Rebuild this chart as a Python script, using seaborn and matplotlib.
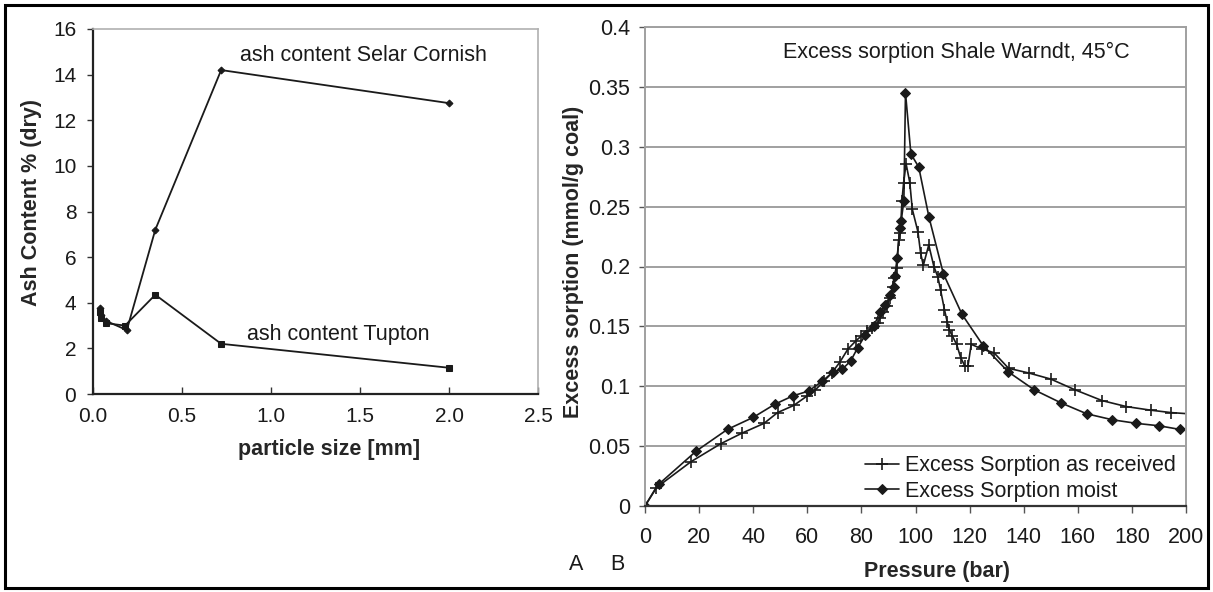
import numpy as np
import pandas as pd
import seaborn as sns
import matplotlib
matplotlib.use('Agg')
import matplotlib.pyplot as plt
from matplotlib.ticker import FuncFormatter, MultipleLocator

# region data
# panel A - ash content vs particle size
size_selar = [0.038, 0.045, 0.075, 0.19, 0.35, 0.72, 2.0]
ash_selar = [3.75, 3.45, 3.2, 2.8, 7.2, 14.2, 12.75]
size_tupton = [0.038, 0.045, 0.075, 0.18, 0.35, 0.72, 2.0]
ash_tupton = [3.6, 3.35, 3.1, 3.0, 4.35, 2.2, 1.15]

# panel B - excess sorption vs pressure
p_received = [0, 4, 17, 28, 36, 44, 49, 55, 60, 63, 66, 69, 72, 75, 78, 80, 82, 84,
              86, 87, 88, 89.5, 90.5, 91.5, 92, 93, 93.8, 94.4, 95, 95.6, 96.5, 97.9,
              98.8, 100.9, 101.9, 102.9, 104.9, 106.8, 108.3, 109.3, 110.7, 111.7,
              112.5, 113.6, 115.2, 116.7, 118.2, 119.4, 120.6, 124.7, 129, 134.4,
              142, 150, 159, 169, 178, 187, 194.5, 201]
s_received = [0, 0.015, 0.037, 0.052, 0.061, 0.069, 0.078, 0.084, 0.092, 0.097, 0.104,
              0.111, 0.12, 0.131, 0.138, 0.142, 0.146, 0.149, 0.153, 0.157, 0.162, 0.167,
              0.174, 0.183, 0.19, 0.199, 0.222, 0.228, 0.255, 0.27, 0.286, 0.27, 0.248,
              0.229, 0.211, 0.201, 0.218, 0.2, 0.191, 0.18, 0.164, 0.154, 0.147, 0.142,
              0.135, 0.124, 0.117, 0.117, 0.135, 0.131, 0.128, 0.115, 0.111, 0.106,
              0.097, 0.088, 0.083, 0.08, 0.078, 0.077]
p_moist = [0, 5, 19, 30.5, 40, 48, 54.7, 60.5, 65.4, 69.6, 72.8, 76, 78.6, 81.5, 84.6,
           86.8, 88.9, 90.7, 92, 92.4, 93.2, 94.2, 94.7, 95.7, 96.3, 98.3, 101.2, 105,
           110.3, 117.2, 125, 134.3, 143.9, 153.9, 163.3, 172.8, 181.7, 190, 197.6, 201]
s_moist = [0, 0.018, 0.046, 0.064, 0.074, 0.085, 0.092, 0.096, 0.104, 0.112, 0.114,
           0.121, 0.132, 0.143, 0.15, 0.162, 0.168, 0.176, 0.183, 0.192, 0.207, 0.232,
           0.238, 0.255, 0.345, 0.294, 0.283, 0.241, 0.194, 0.16, 0.134, 0.112, 0.097,
           0.086, 0.077, 0.072, 0.069, 0.067, 0.064, 0.064]
# endregion

df_selar = pd.DataFrame({'size': size_selar, 'ash': ash_selar})
df_tupton = pd.DataFrame({'size': size_tupton, 'ash': ash_tupton})
df_rec = pd.DataFrame({'p': p_received, 's': s_received})
df_moist = pd.DataFrame({'p': p_moist, 's': s_moist})

sns.set_theme(style='white')
plt.rcParams['font.family'] = ['Liberation Sans', 'DejaVu Sans']
plt.rcParams['text.color'] = '#1a1a1a'
plt.rcParams['xtick.color'] = '#1a1a1a'
plt.rcParams['ytick.color'] = '#1a1a1a'

W, H = 1213, 592
fig = plt.figure(figsize=(W / 100, H / 100), dpi=100)

line_col = '#1a1a1a'
fs = 15.5

# ---------------- panel A ----------------
axA = fig.add_axes([93 / W, 1 - 394 / H, (538 - 93) / W, (394 - 29) / H])
sns.lineplot(data=df_selar, x='size', y='ash', ax=axA, sort=False, estimator=None,
             color=line_col, lw=1.3, marker='D', ms=3.5, mec=line_col)
sns.lineplot(data=df_tupton, x='size', y='ash', ax=axA, sort=False, estimator=None,
             color=line_col, lw=1.3, marker='s', ms=5, mec=line_col)
axA.set_xlim(0, 2.5)
axA.set_ylim(0, 16)
axA.xaxis.set_major_locator(MultipleLocator(0.5))
axA.yaxis.set_major_locator(MultipleLocator(2))
axA.xaxis.set_major_formatter(FuncFormatter(lambda v, p: f'{v:.1f}'))
axA.tick_params(axis='x', direction='in', length=5, width=1, color='#333333',
                labelsize=15, pad=9)
axA.tick_params(axis='y', direction='out', length=4, width=1, color='#333333',
                labelsize=15, pad=8)
axA.tick_params(bottom=True, left=True)
for side in ['left', 'bottom']:
    axA.spines[side].set_color('#222222')
    axA.spines[side].set_linewidth(1.6)
for side in ['top', 'right']:
    axA.spines[side].set_color('#b0b0b0')
    axA.spines[side].set_linewidth(1.2)
axA.set_xlabel('particle size [mm]', fontsize=fs, fontweight='bold')
axA.xaxis.set_label_coords(0.53, -0.123)
axA.set_ylabel('Ash Content % (dry)', fontsize=fs, fontweight='bold')
axA.yaxis.set_label_coords(-0.115, 0.526)
axA.text(1.52, 14.85, 'ash content Selar Cornish', fontsize=fs, ha='center', va='center')
axA.text(1.38, 2.6, 'ash content Tupton', fontsize=fs, ha='center', va='center')

# ---------------- panel B ----------------
axB = fig.add_axes([645 / W, 1 - 506 / H, (1186 - 645) / W, (506 - 27) / H])
sns.lineplot(data=df_rec, x='p', y='s', ax=axB, sort=False, estimator=None,
             color=line_col, lw=1.2, marker='+', ms=8, mew=1.2, mec=line_col,
             markevery=slice(0, len(p_received) - 1),
             label='Excess Sorption as received')
sns.lineplot(data=df_moist, x='p', y='s', ax=axB, sort=False, estimator=None,
             color=line_col, lw=1.2, marker='D', ms=5.5, mec=line_col,
             markevery=slice(0, len(p_moist) - 1),
             label='Excess Sorption moist')
axB.set_xlim(0, 200)
axB.set_ylim(0, 0.4)
axB.xaxis.set_major_locator(MultipleLocator(20))
axB.yaxis.set_major_locator(MultipleLocator(0.05))
axB.yaxis.set_major_formatter(FuncFormatter(lambda v, p: f'{v:g}'))
axB.grid(axis='y', color='#a0a0a0', lw=1.4)
axB.set_axisbelow(True)
axB.tick_params(axis='x', direction='out', length=5, width=1, color='#555555',
                labelsize=fs, pad=10)
axB.tick_params(axis='y', direction='out', length=4, width=1, color='#555555',
                labelsize=fs, pad=6.5)
axB.tick_params(bottom=True, left=True)
axB.spines['bottom'].set_color('#333333')
axB.spines['bottom'].set_linewidth(1.6)
for side in ['left', 'top', 'right']:
    axB.spines[side].set_color('#a0a0a0')
    axB.spines[side].set_linewidth(1.4)
axB.set_xlabel('Pressure (bar)', fontsize=fs, fontweight='bold')
axB.xaxis.set_label_coords(0.54, -0.115)
axB.set_ylabel('Excess sorption (mmol/g coal)', fontsize=fs, fontweight='bold')
axB.yaxis.set_label_coords(-0.113, 0.509)
axB.text(0.575, 0.946, 'Excess sorption Shale Warndt, 45°C', transform=axB.transAxes,
         fontsize=fs, ha='center', va='center')
leg = axB.legend(loc='lower right', frameon=False, fontsize=fs, handlelength=1.6,
                 handletextpad=0.3, labelspacing=0.2, borderpad=0.2, borderaxespad=0,
                 bbox_to_anchor=(0.99, 0.0))

fig.text(576 / W, 1 - 565 / H, 'A', fontsize=fs, ha='center', va='center')
fig.text(617 / W, 1 - 565 / H, 'B', fontsize=fs, ha='center', va='center')

# outer frame
fig.patches.append(matplotlib.patches.Rectangle((5 / W, 4 / H), 1203 / W, 583 / H,
                                                transform=fig.transFigure, fill=False,
                                                edgecolor='black', lw=2.2))

plt.savefig('out.png', dpi=100)
